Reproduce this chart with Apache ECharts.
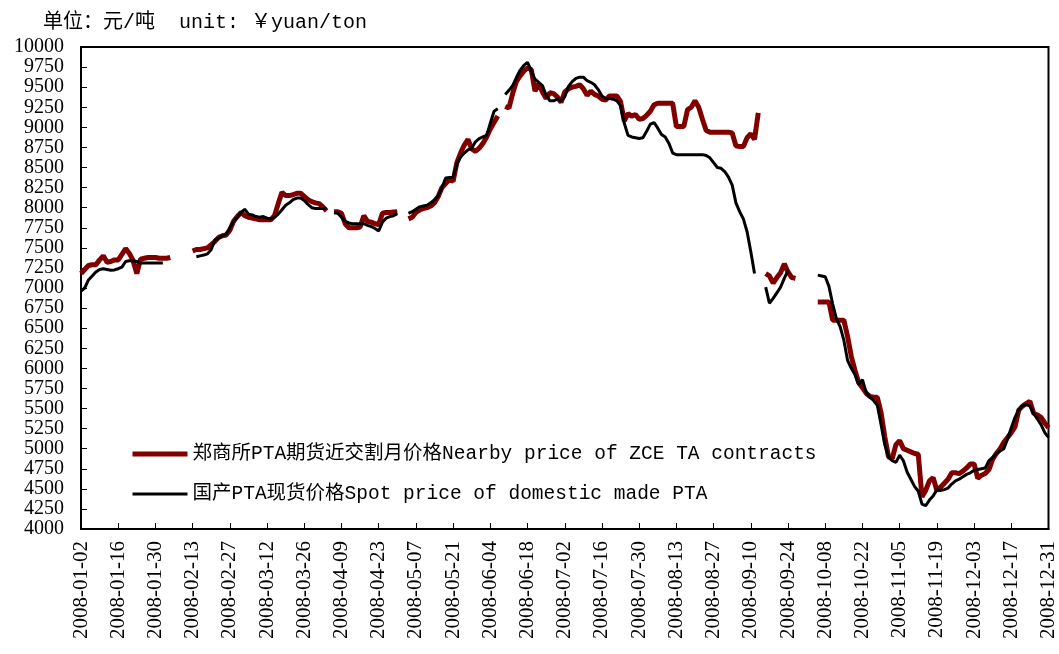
<!DOCTYPE html>
<html>
<head>
<meta charset="utf-8">
<script src="https://cdn.jsdelivr.net/npm/echarts@6/dist/echarts.min.js"></script>
<style>
  html, body { margin: 0; padding: 0; background: #fff; }
  #chart { width: 1059px; height: 654px; }
</style>
</head>
<body>
<div id="chart"></div>
<script>
  // weekdays of 2008, from 01-02 to 12-31 (category axis)
  const firstDay = '2008-01-02';
  const lastDay = '2008-12-31';
  const dates = [];
  for (let d = new Date(firstDay + 'T00:00:00Z'); d <= new Date(lastDay + 'T00:00:00Z'); d.setUTCDate(d.getUTCDate() + 1)) {
    const wd = d.getUTCDay();
    if (wd !== 0 && wd !== 6) dates.push(d.toISOString().slice(0, 10));
  }

  const seriesNames = [
    '郑商所PTA期货近交割月价格Nearby price of ZCE TA contracts',
    '国产PTA现货价格Spot price of domestic made PTA'
  ];

  // 郑商所PTA期货近交割月价格 (one value per weekday, null = no quote)
  const zcePrice = [
    7180, 7230, 7280, 7290, 7290, 7350, 7400, 7320, 7330, 7350,
    7350, 7420, 7490, 7430, 7340, 7180, 7360, 7370, 7380, 7380,
    7380, 7370, 7370, 7370, 7380, null, null, null, null, null,
    7460, 7480, 7480, 7490, 7500, 7540, 7580, 7630, 7650, 7660,
    7720, 7830, 7890, 7940, 7900, 7880, 7870, 7860, 7850, 7850,
    7850, 7850, 7900, 8050, 8190, 8150, 8150, 8160, 8180, 8180,
    8140, 8100, 8075, 8060, 8050, 8010, 7960, null, 7950, 7950,
    7930, 7800, 7750, 7750, 7750, 7760, 7900, 7830, 7820, 7800,
    7790, 7930, 7940, 7940, 7945, 7950, null, null, 7860, 7880,
    7940, 7970, 7990, 8000, 8020, 8060, 8140, 8250, 8300, 8350,
    8330, 8560, 8680, 8780, 8850, 8730, 8700, 8740, 8800, 8880,
    8980, 9060, 9140, null, 9260, 9240, 9420, 9570, 9640, 9700,
    9740, 9720, 9450, 9540, 9440, 9360, 9430, 9420, 9380, 9310,
    9440, 9480, 9500, 9510, 9530, 9480, 9400, 9450, 9410, 9390,
    9350, 9340, 9390, 9390, 9390, 9320, 9080, 9170, 9140, 9160,
    9100, 9110, 9150, 9200, 9280, 9300, 9300, 9300, 9300, 9300,
    9010, 9010, 9010, 9220, 9250, 9330, 9250, 9100, 8960, 8940,
    8940, 8940, 8940, 8940, 8940, 8930, 8770, 8760, 8760, 8870,
    8920, 8850, 9180, null, 7180, 7150, 7060, 7130, 7190, 7300,
    7200, 7130, 7120, null, null, null, null, null, 6825, 6825,
    6825, 6825, 6600, 6600, 6600, 6600, 6400, 6150, 5975, 5820,
    5760, 5690, 5650, 5640, 5640, 5450, 5150, 4900, 4875, 5050,
    5100, 5000, 4980, 4960, 4940, 4930, 4400, 4480, 4600, 4640,
    4480, 4520, 4570, 4620, 4700, 4700, 4690, 4720, 4760, 4810,
    4810, 4630, 4670, 4690, 4740, 4870, 4940, 5000, 5080, 5140,
    5200, 5270, 5480, 5530, 5560, 5590, 5440, 5420, 5390, 5320,
    5260
  ];

  // 国产PTA现货价格
  const spotPrice = [
    6960, 7000, 7100, 7150, 7200, 7230, 7240, 7230, 7220, 7225,
    7240, 7260, 7330, 7340, 7340, 7330, 7310, 7310, 7310, 7310,
    7310, 7310, 7310, null, null, null, null, null, null, null,
    null, 7390, 7400, 7410, 7425, 7480, 7600, 7620, 7650, 7670,
    7750, 7830, 7880, 7940, 7980, 7920, 7910, 7890, 7880, 7890,
    7870, 7860, 7880, 7920, 7975, 8030, 8060, 8100, 8120, 8120,
    8090, 8040, 8000, 7990, 7990, 7990, 7990, null, 7940, 7930,
    7880, 7830, 7810, 7800, 7800, 7800, 7800, 7780, 7765, 7740,
    7710, 7820, 7870, 7890, 7900, 7925, null, null, 7930, 7950,
    7980, 8010, 8020, 8030, 8060, 8100, 8150, 8250, 8370, 8375,
    8380, 8540, 8630, 8680, 8720, 8740, 8820, 8860, 8880, 8900,
    9050, 9200, 9230, null, 9410, 9460, 9520, 9620, 9710, 9770,
    9810, 9700, 9600, 9560, 9520, 9400, 9330, 9330, 9350, 9330,
    9380, 9510, 9570, 9610, 9625, 9625, 9580, 9560, 9530, 9470,
    9390, 9360, 9360, 9350, 9330, 9270, 9050, 8900, 8880, 8870,
    8860, 8870, 8950, 9040, 9060, 8990, 8910, 8880, 8800, 8680,
    8660, 8660, 8660, 8660, 8660, 8660, 8660, 8660, 8650, 8620,
    8560, 8500, 8490, 8450, 8380, 8280, 8060, 7950, 7860, 7700,
    7450, 7180, null, null, 7010, 6810, 6870, 6940, 7010, 7120,
    7220, null, null, null, null, null, null, null, 7160, 7150,
    7140, 7020, 6800, 6620, 6520, 6350, 6100, 6000, 5920, 5800,
    5860, 5700, 5640, 5600, 5540, 5300, 5050, 4900, 4850, 4830,
    4920, 4850, 4710, 4620, 4530, 4470, 4310, 4290, 4360, 4410,
    4490, 4480, 4490, 4510, 4560, 4600, 4620, 4650, 4680, 4700,
    4730, 4740, 4750, 4760, 4850, 4890, 4940, 4970, 5000, 5120,
    5260, 5390, 5480, 5530, 5550, 5530, 5440, 5370, 5300, 5200,
    5140
  ];

  const yMin = 4000;
  const yMax = 10000;
  const yStep = 250;

  const numFont = "'Liberation Serif', 'Noto Sans CJK SC', serif";
  const textFont = "'Liberation Mono', 'Noto Sans CJK SC', monospace";

  const chart = echarts.init(document.getElementById('chart'), null, { renderer: 'canvas' });
  chart.setOption({
    animation: false,
    backgroundColor: '#fff',
    title: {
      text: '单位：元/吨  unit: ￥yuan/ton',
      left: 38,
      top: 8,
      textStyle: { color: '#000', fontSize: 20, fontWeight: 'normal', fontFamily: textFont }
    },
    legend: {
      orient: 'vertical',
      left: 125,
      top: 439,
      itemWidth: 55,
      itemHeight: 14,
      itemGap: 20,
      data: [
        { name: seriesNames[0], lineStyle: { color: '#800000', width: 5 } },
        { name: seriesNames[1], lineStyle: { color: '#000', width: 3 } }
      ],
      itemStyle: { opacity: 0 },
      textStyle: { color: '#000', fontSize: 19.5, lineHeight: 20, fontFamily: textFont }
    },
    grid: {
      left: 81, right: 8, top: 47, bottom: 125,
      show: true, borderColor: '#000', borderWidth: 2
    },
    xAxis: {
      type: 'category',
      data: dates,
      boundaryGap: false,
      axisLine: { lineStyle: { color: '#000', width: 2 } },
      axisTick: { inside: true, interval: 9, length: 6, lineStyle: { color: '#000', width: 1 } },
      axisLabel: {
        interval: 9, rotate: 90, margin: 12,
        color: '#000', fontSize: 21, fontFamily: numFont
      },
      splitLine: { show: false }
    },
    yAxis: {
      type: 'value',
      min: yMin, max: yMax, interval: yStep,
      axisLine: { show: true, lineStyle: { color: '#000', width: 2 } },
      axisTick: { show: true, inside: true, length: 6, lineStyle: { color: '#000', width: 1 } },
      axisLabel: {
        margin: 17, color: '#000', fontSize: 20, fontFamily: numFont,
        formatter: v => String(v)
      },
      splitLine: { show: false }
    },
    series: [
      {
        name: seriesNames[0],
        type: 'line',
        data: zcePrice,
        symbol: 'none',
        connectNulls: false,
        lineStyle: { color: '#800000', width: 5 },
        itemStyle: { color: '#800000' },
        z: 2
      },
      {
        name: seriesNames[1],
        type: 'line',
        data: spotPrice,
        symbol: 'none',
        connectNulls: false,
        lineStyle: { color: '#000', width: 3 },
        itemStyle: { color: '#000' },
        z: 3
      }
    ]
  });
</script>
</body>
</html>
